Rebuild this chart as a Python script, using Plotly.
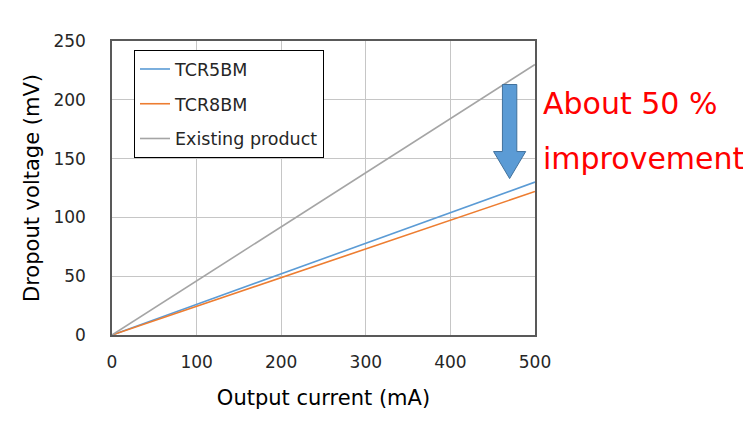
import plotly.graph_objects as go

# output current (mA) and dropout voltage (mV)
current = [0, 500]
tcr5bm = [0, 130]
tcr8bm = [0, 122]
existing = [0, 230]

series = [
    ("TCR5BM", tcr5bm, "#5B9BD5"),
    ("TCR8BM", tcr8bm, "#ED7D31"),
    ("Existing product", existing, "#A5A5A5"),
]

font = "DejaVu Sans"

fig = go.Figure()
for name, vals, col in series:
    fig.add_trace(go.Scatter(x=current, y=vals, mode="lines", name=name,
                             legendgroup=name,
                             line=dict(color=col, width=1.6)))

# down arrow from existing product to new parts
ax, top, neck, tip = 470, 213, 156, 133
bw, hw = 8.5, 19
arrow = (f"M {ax-bw},{top} L {ax+bw},{top} L {ax+bw},{neck} L {ax+hw},{neck} "
         f"L {ax},{tip} L {ax-hw},{neck} L {ax-bw},{neck} Z")
fig.add_shape(type="path", path=arrow, xref="x", yref="y",
              fillcolor="#5B9BD5", line=dict(color="#41719C", width=1))

fig.add_annotation(x=1.015, y=0.789, xref="paper", yref="paper", xanchor="left",
                   yanchor="middle", text="About 50 %", showarrow=False,
                   font=dict(family=font, size=30, color="#FF0000"))
fig.add_annotation(x=1.015, y=0.599, xref="paper", yref="paper", xanchor="left",
                   yanchor="middle", text="improvement", showarrow=False,
                   font=dict(family=font, size=30, color="#FF0000"))

fig.update_xaxes(range=[0, 500], dtick=100, showgrid=True, gridcolor="#C6C6C6",
                 gridwidth=1.2,
                 showline=True, linecolor="#595959", linewidth=1.5, mirror=True,
                 zeroline=False, ticks="", ticklabelstandoff=11,
                 tickfont=dict(family=font, size=17, color="#262626"),
                 title=dict(text="Output current (mA)", standoff=19,
                            font=dict(family=font, size=21, color="#000000")))
fig.update_yaxes(range=[0, 250], dtick=50, showgrid=True, gridcolor="#C6C6C6",
                 gridwidth=1.2,
                 showline=True, linecolor="#595959", linewidth=1.5, mirror=True,
                 zeroline=False, ticks="", ticklabelstandoff=21,
                 tickfont=dict(family=font, size=17, color="#262626"),
                 title=dict(text="Dropout voltage (mV)", standoff=8,
                            font=dict(family=font, size=21, color="#000000")))

fig.update_layout(
    width=751, height=422,
    margin=dict(l=104, r=224, t=33, b=95),
    plot_bgcolor="white", paper_bgcolor="white",
    legend=dict(x=0.052, y=0.969, xanchor="left", yanchor="top",
                bordercolor="#000000", borderwidth=1, bgcolor="white",
                tracegroupgap=9,
                font=dict(family=font, size=17.5, color="#262626")),
)

fig.write_html("out.html")
